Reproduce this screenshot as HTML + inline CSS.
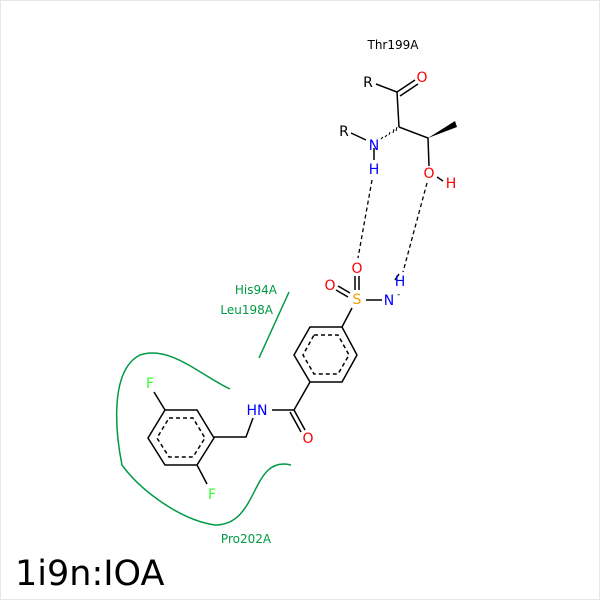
<!DOCTYPE html>
<html><head><style>body{margin:0;background:#fff}svg{display:block}text{font-family:"DejaVu Sans","Liberation Sans",sans-serif}</style></head><body>
<svg width="600" height="600" viewBox="0 0 600 600" xmlns="http://www.w3.org/2000/svg">
<rect x="0.5" y="0.5" width="599" height="599" fill="#fff" stroke="#e6e6e6"/>
<g stroke="#009944" stroke-width="1.5" fill="none">
<path d="M289,292 L259,358"/>
<path d="M230,389 C200,375 170,345 140,355 C110,370 115,430 122,465 C140,490 180,520 215,525 C260,525 250,455 291,465"/>
</g>
<g font-size="12" fill="#009944">
<text x="277" y="294" text-anchor="end">His94A</text>
<text x="273" y="314" text-anchor="end">Leu198A</text>
<text x="246" y="543" text-anchor="middle">Pro202A</text>
</g>
<g stroke="#000" stroke-width="1.5" fill="none">
<path d="M376,84 L397,92 L399,127"/>
<path d="M397,92 L415,80 M400,96 L418,84"/>
<path d="M351,133 L366,140"/>
<path d="M399,127 L428,138 L429,166"/>
<path d="M437,177 L443,181"/>
<path d="M374,148 L374,160"/>
<path d="M310,327 L342,327 L357,355 L342,382 L310,382 L294,355 Z"/>
<path d="M314,335 L338,335 L349,355 L338,374 L314,374 L303,355 Z" stroke-dasharray="4,3"/>
<path d="M342,327 L352,308"/>
<path d="M366,300 L382,300"/>
<path d="M355,290 L355,276 M359,290 L359,276"/>
<path d="M338,286 L350,293 M336,290 L348,297"/>
<path d="M310,382 L294,410 L272,410"/>
<path d="M294,410 L305,430 M290,412 L301,432"/>
<path d="M253,418 L246,437 L213,437"/>
<path d="M165,410 L197,410 L214,438 L197,465 L165,465 L148,438 Z"/>
<path d="M169,418 L193,418 L205,438 L193,457 L169,457 L157,438 Z" stroke-dasharray="4,3"/>
<path d="M165,410 L154,392 M197,465 L207,484"/>
<path d="M395,280 L399,274" />
</g>
<polygon points="428,138 455,121 457,127" fill="#000"/>
<g stroke="#000" stroke-width="1">
<path d="M381,139 L383,137 M385,137 L387,135 M389,135 L390,132 M393,133 L394,129 M396,131 L397,127"/>
</g>
<g stroke="#000" stroke-width="1.3" stroke-dasharray="4,3" fill="none">
<path d="M372,180 L358,258"/>
<path d="M427,183 L403,272"/>
</g>
<g font-size="14">
<text x="393" y="49" text-anchor="middle" font-size="12" fill="#000">Thr199A</text>
<text x="368" y="87" text-anchor="middle" fill="#000">R</text>
<text x="422" y="82" text-anchor="middle" fill="#f00">O</text>
<text x="344" y="136" text-anchor="middle" fill="#000">R</text>
<text x="374" y="150" text-anchor="middle" fill="#00f">N</text>
<text x="374" y="174" text-anchor="middle" fill="#00f">H</text>
<text x="429" y="178" text-anchor="middle" fill="#f00">O</text>
<text x="451" y="188" text-anchor="middle" fill="#f00">H</text>
<text x="357" y="273" text-anchor="middle" fill="#f00">O</text>
<text x="330" y="290" text-anchor="middle" fill="#f00">O</text>
<text x="357" y="304" text-anchor="middle" fill="#f0a000">S</text>
<text x="389" y="305" text-anchor="middle" fill="#00f">N</text>
<text x="397" y="297" font-size="9" fill="#000">-</text>
<text x="400" y="286" text-anchor="middle" fill="#00f">H</text>
<text x="257" y="415" text-anchor="middle" fill="#00f">HN</text>
<text x="308" y="443" text-anchor="middle" fill="#f00">O</text>
<text x="150" y="388" text-anchor="middle" fill="#3f3">F</text>
<text x="212" y="499" text-anchor="middle" fill="#3f3">F</text>
</g>
<text x="15" y="585" font-size="35" fill="#000">1i9n:IOA</text>
</svg>
</body></html>
